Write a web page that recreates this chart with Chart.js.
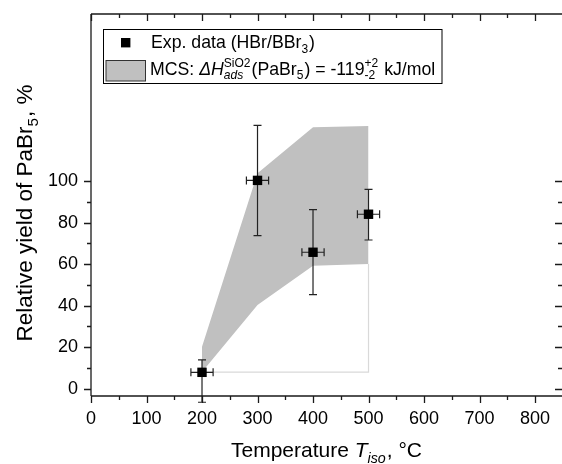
<!DOCTYPE html>
<html>
<head>
<meta charset="utf-8">
<script src="https://cdn.jsdelivr.net/npm/chart.js@4/dist/chart.umd.min.js"></script>
<style>
html,body{margin:0;padding:0;background:#fff;}
canvas{display:block;}
</style>
</head>
<body>
<canvas id="c" width="562" height="464"></canvas>
<script>
// ---- data ----
const tempC = [200, 300, 400, 500];
const yieldPct = [7.9, 100.3, 65.7, 84.0];
const tempErr = [20, 20, 20, 20];
const yieldErrUp = [6.0, 26.5, 20.5, 12.0];
const yieldErrDown = [14.4, 26.6, 20.4, 12.4];

const bandX = [200, 300, 400, 500];
const bandUpper = [20.2, 103.7, 125.9, 126.5];
const bandLower = [8.0, 40.3, 59.2, 60.0];

const outlineX = [200, 500, 500];
const outlineY = [8.0, 8.0, 60.0];

const xTicks = [0, 100, 200, 300, 400, 500, 600, 700, 800];
const xMinor = [50, 150, 250, 350, 450, 550, 650, 750];
const yTicks = [0, 20, 40, 60, 80, 100];
const yMinor = [10, 30, 50, 70, 90];

const FONT = "'Liberation Sans', Arial, Helvetica, sans-serif";
const AXIS_COLOR = '#1a1a1a';
const BAND_COLOR = 'rgb(192,192,192)';

// ---- rich text helper ----
const SMALL = 0.68;
function fnt(size, italic) { return (italic ? 'italic ' : '') + size + 'px ' + FONT; }
function segWidth(ctx, s, size) {
  const ss = size * SMALL;
  if (s.k === 'stack') {
    ctx.font = fnt(ss, s.supI); const a = ctx.measureText(s.sup).width;
    ctx.font = fnt(ss, s.subI); const b = ctx.measureText(s.sub).width;
    return Math.max(a, b) + 1;
  }
  const sz = (s.k === 'sub' || s.k === 'sup') ? ss : size;
  ctx.font = fnt(sz, s.i);
  return ctx.measureText(s.t).width + (s.k === 'sub' || s.k === 'sup' ? 1 : 0);
}
function richWidth(ctx, segs, size) { return segs.reduce((w, s) => w + segWidth(ctx, s, size), 0); }
function drawRich(ctx, segs, x, y, size, align) {
  let cx = x;
  if (align === 'center') cx = x - richWidth(ctx, segs, size) / 2;
  ctx.textBaseline = 'alphabetic';
  ctx.textAlign = 'left';
  const ss = size * SMALL;
  for (const s of segs) {
    const w = segWidth(ctx, s, size);
    if (s.k === 'stack') {
      ctx.font = fnt(ss, s.supI); ctx.fillText(s.sup, cx, y - size * 0.42);
      ctx.font = fnt(ss, s.subI); ctx.fillText(s.sub, cx, y + size * 0.28);
    } else if (s.k === 'sub') {
      ctx.font = fnt(ss, s.i); ctx.fillText(s.t, cx, y + size * 0.28);
    } else if (s.k === 'sup') {
      ctx.font = fnt(ss, s.i); ctx.fillText(s.t, cx, y - size * 0.42);
    } else {
      ctx.font = fnt(size, s.i); ctx.fillText(s.t, cx, y);
    }
    cx += w;
  }
}

const legendRow1 = [{t: 'Exp. data (HBr/BBr'}, {t: '3', k: 'sub'}, {t: ')'}];
const legendRow2 = [{t: 'MCS: '}, {t: '\u0394H', i: true}, {k: 'stack', sup: 'SiO2', sub: 'ads', subI: true},
  {t: '(PaBr'}, {t: '5', k: 'sub'}, {t: ') = -119'}, {k: 'stack', sup: '+2', sub: '-2'}, {t: ' kJ/mol'}];
const xTitle = [{t: 'Temperature '}, {t: 'T', i: true}, {t: 'iso', k: 'sub', i: true}, {t: ', \u00B0C'}];
const yTitle = [{t: 'Relative yield of PaBr'}, {t: '5', k: 'sub'}, {t: ', %'}];

// ---- plugin: frame, ticks, error bars, legend, titles ----
const decor = {
  id: 'decor',
  afterDatasetsDraw(chart) {
    const ctx = chart.ctx;
    const xs = chart.scales.x, ys = chart.scales.y;
    const a = chart.chartArea;
    ctx.save();
    // error bars
    ctx.strokeStyle = '#222';
    ctx.lineWidth = 1.2;
    for (let i = 0; i < tempC.length; i++) {
      const px = xs.getPixelForValue(tempC[i]);
      const py = ys.getPixelForValue(yieldPct[i]);
      const yt = ys.getPixelForValue(yieldPct[i] + yieldErrUp[i]);
      const yb = ys.getPixelForValue(yieldPct[i] - yieldErrDown[i]);
      const xl = xs.getPixelForValue(tempC[i] - tempErr[i]);
      const xr = xs.getPixelForValue(tempC[i] + tempErr[i]);
      ctx.beginPath();
      ctx.moveTo(px, yt); ctx.lineTo(px, yb);
      ctx.moveTo(px - 4, yt); ctx.lineTo(px + 4, yt);
      ctx.moveTo(px - 4, yb); ctx.lineTo(px + 4, yb);
      ctx.moveTo(xl, py); ctx.lineTo(xr, py);
      ctx.moveTo(xl, py - 4); ctx.lineTo(xl, py + 4);
      ctx.moveTo(xr, py - 4); ctx.lineTo(xr, py + 4);
      ctx.stroke();
    }
    // markers on top
    ctx.fillStyle = '#000';
    for (let i = 0; i < tempC.length; i++) {
      const px = xs.getPixelForValue(tempC[i]);
      const py = ys.getPixelForValue(yieldPct[i]);
      ctx.fillRect(px - 4.7, py - 4.7, 9.4, 9.4);
    }
    // frame
    ctx.strokeStyle = AXIS_COLOR;
    ctx.lineWidth = 1.3;
    ctx.beginPath();
    ctx.moveTo(a.left, a.top); ctx.lineTo(a.left, a.bottom);
    ctx.moveTo(a.left, a.bottom); ctx.lineTo(a.right, a.bottom);
    ctx.moveTo(a.left, a.top); ctx.lineTo(a.right, a.top);
    ctx.stroke();
    // x ticks (bottom outward, top inward)
    ctx.beginPath();
    for (const v of xTicks) {
      const p = Math.round(xs.getPixelForValue(v)) + 0.5;
      ctx.moveTo(p, a.bottom); ctx.lineTo(p, a.bottom + 7);
      ctx.moveTo(p, a.top); ctx.lineTo(p, a.top + 7);
    }
    for (const v of xMinor) {
      const p = Math.round(xs.getPixelForValue(v)) + 0.5;
      ctx.moveTo(p, a.bottom); ctx.lineTo(p, a.bottom + 4);
      ctx.moveTo(p, a.top); ctx.lineTo(p, a.top + 4);
    }
    // y ticks (left outward, right inward)
    for (const v of yTicks) {
      const p = Math.round(ys.getPixelForValue(v)) + 0.5;
      ctx.moveTo(a.left, p); ctx.lineTo(a.left - 7, p);
      ctx.moveTo(a.right, p); ctx.lineTo(a.right - 7, p);
    }
    for (const v of yMinor) {
      const p = Math.round(ys.getPixelForValue(v)) + 0.5;
      ctx.moveTo(a.left, p); ctx.lineTo(a.left - 4, p);
      ctx.moveTo(a.right, p); ctx.lineTo(a.right - 4, p);
    }
    ctx.stroke();

    // legend
    ctx.fillStyle = '#fff';
    ctx.fillRect(103.5, 29.5, 338.5, 54);
    ctx.strokeStyle = '#000';
    ctx.lineWidth = 1;
    ctx.strokeRect(103.5, 29.5, 338.5, 54);
    ctx.fillStyle = '#000';
    ctx.fillRect(121, 38, 9.4, 9.4);
    ctx.fillStyle = BAND_COLOR;
    ctx.fillRect(106, 60.5, 39.5, 20.5);
    ctx.strokeStyle = '#333';
    ctx.strokeRect(106, 60.5, 39.5, 20.5);
    ctx.fillStyle = '#000';
    drawRich(ctx, legendRow1, 151, 48, 17.7, 'left');
    drawRich(ctx, legendRow2, 150, 74.5, 17.7, 'left');

    // axis titles
    drawRich(ctx, xTitle, (a.left + a.right) / 2, 457, 21, 'center');
    ctx.translate(31.5, 213);
    ctx.rotate(-Math.PI / 2);
    drawRich(ctx, yTitle, 0, 0, 22.5, 'center');
    ctx.restore();
  }
};

const tickFont = {family: FONT, size: 18};

new Chart(document.getElementById('c'), {
  type: 'scatter',
  data: {
    datasets: [
      {
        label: 'MCS upper',
        data: bandX.map((x, i) => ({x, y: bandUpper[i]})),
        showLine: true, fill: '+1', backgroundColor: BAND_COLOR,
        borderColor: 'rgba(0,0,0,0)', borderWidth: 1, pointRadius: 0, tension: 0
      },
      {
        label: 'MCS lower',
        data: bandX.map((x, i) => ({x, y: bandLower[i]})),
        showLine: true, fill: false,
        borderColor: 'rgba(0,0,0,0)', borderWidth: 1, pointRadius: 0, tension: 0
      },
      {
        label: 'outline',
        data: outlineX.map((x, i) => ({x, y: outlineY[i]})),
        showLine: true, fill: false,
        borderColor: '#d9d9d9', borderWidth: 1.2, pointRadius: 0, tension: 0
      },
      {
        label: 'Exp. data (HBr/BBr3)',
        data: tempC.map((x, i) => ({x, y: yieldPct[i]})),
        pointStyle: 'rect', pointRadius: 0, backgroundColor: '#000', borderColor: '#000'
      }
    ]
  },
  options: {
    responsive: false,
    devicePixelRatio: 1,
    animation: false,
    layout: {padding: {top: 14, right: 0, left: 0, bottom: 0}},
    plugins: {legend: {display: false}, tooltip: {enabled: false}},
    scales: {
      x: {
        type: 'linear', min: 0, max: 848.6,
        afterBuildTicks: s => { s.ticks = xTicks.map(v => ({value: v})); },
        afterFit: s => { s.height = 68; s.paddingLeft = 0; s.paddingRight = 0; },
        ticks: {font: tickFont, color: '#000', padding: 12, maxRotation: 0, autoSkip: false},
        grid: {display: false, drawTicks: false},
        border: {display: false},
        title: {display: false}
      },
      y: {
        type: 'linear', min: -3.5, max: 180.4,
        afterBuildTicks: s => { s.ticks = yTicks.map(v => ({value: v})); },
        afterFit: s => { s.width = 91; s.paddingTop = 0; s.paddingBottom = 0; },
        ticks: {font: tickFont, color: '#000', padding: 13, autoSkip: false},
        grid: {display: false, drawTicks: false},
        border: {display: false},
        title: {display: false}
      }
    }
  },
  plugins: [decor]
});
</script>
</body>
</html>
